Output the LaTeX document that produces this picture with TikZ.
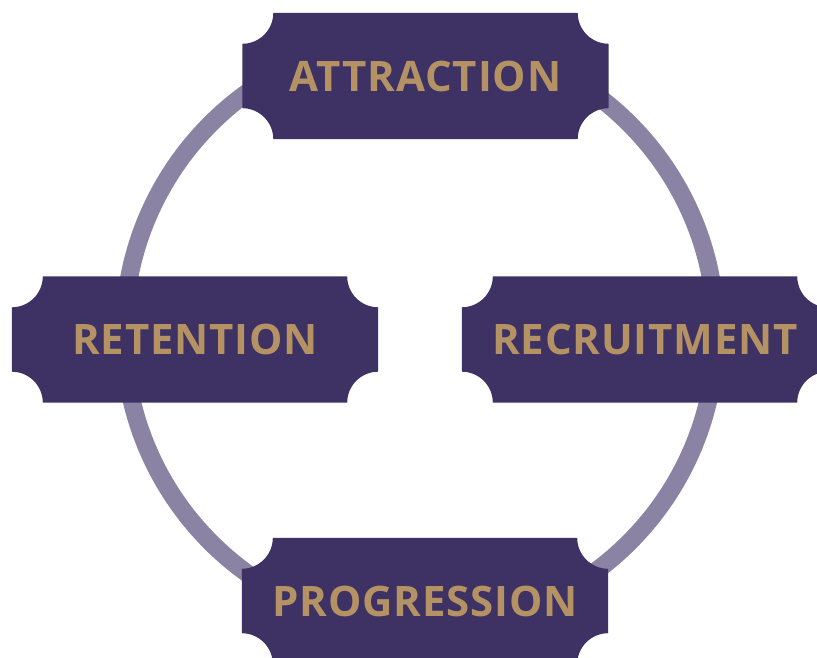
\documentclass[tikz,border=0pt]{standalone}
\usepackage{fontspec}
\setmainfont{Open Sans}
\newfontfamily\labelfont[LetterSpace=2]{Open Sans Bold}
\usetikzlibrary{calc}
\definecolor{boxcol}{HTML}{3D3263}
\definecolor{ringcol}{HTML}{8A83A3}
\definecolor{textcol}{HTML}{B59264}
\pgfdeclarelayer{ringlayer}
\pgfdeclarelayer{boxlayer}
\pgfsetlayers{ringlayer,boxlayer,main}
\tikzset{
  ticket/.style={minimum width=366pt, minimum height=126pt, inner sep=0pt,
    text=textcol, font=\labelfont\fontsize{42}{42}\selectfont},
  ring/.style={draw=ringcol, line width=18pt}
}
\newcommand\ticketshape[1]{%
  \fill[boxcol] ([xshift=31pt]#1.north west) -- ([xshift=-31pt]#1.north east)
    arc[start angle=180,end angle=270,radius=31pt]
    -- ([yshift=31pt]#1.south east)
    arc[start angle=90,end angle=180,radius=31pt]
    -- ([xshift=31pt]#1.south west)
    arc[start angle=0,end angle=90,radius=31pt]
    -- ([yshift=-31pt]#1.north west)
    arc[start angle=270,end angle=360,radius=31pt] -- cycle;}
\begin{document}
\begin{tikzpicture}[x=1pt,y=1pt]
\useasboundingbox (0,0) rectangle (817,657);
\node[ticket] (attr) at (425.5,581) {ATTRACTION};
\node[ticket] (ret) at (195,317.5) {RETENTION};
\node[ticket] (rec) at (645,317.5) {\raisebox{-2pt}{RECRUITMENT}};
\node[ticket] (prog) at (425,56) {PROGRESSION};
\begin{pgfonlayer}{boxlayer}
\ticketshape{attr}
\ticketshape{ret}
\ticketshape{rec}
\ticketshape{prog}
\end{pgfonlayer}
\begin{pgfonlayer}{ringlayer}
\coordinate (ctr) at (420,324);
\draw[ring] (ctr) circle[radius=296pt];
\end{pgfonlayer}
\end{tikzpicture}
\end{document}
